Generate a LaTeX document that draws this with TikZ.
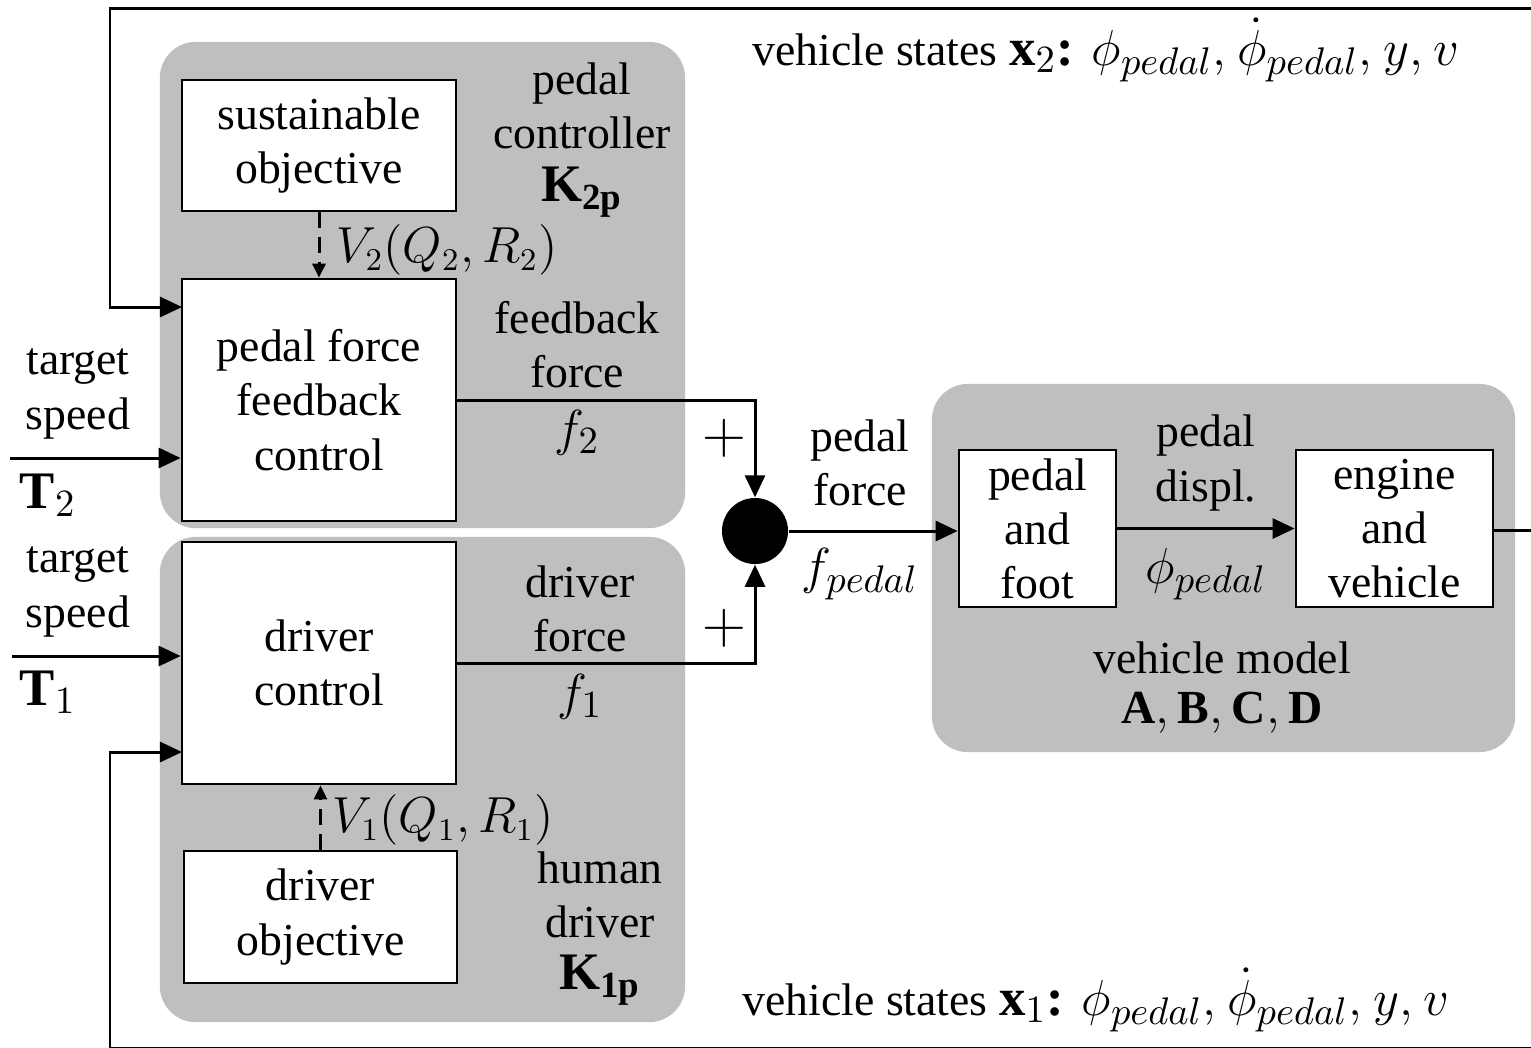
\documentclass[tikz,border=0pt]{standalone}
\usepackage{fontspec}
\setmainfont{Liberation Serif}
\usetikzlibrary{arrows.meta,calc}
\definecolor{boxgray}{HTML}{BFBFBF}
\newcommand{\largemath}[1]{{\fontsize{15}{18}\selectfont #1}}
\begin{document}
\fontsize{13}{15.4}\selectfont
\begin{tikzpicture}[x=0.01cm,y=-0.01cm,
  graybox/.style={fill=boxgray,draw=none,rounded corners=0.36cm,inner sep=0pt},
  blk/.style={draw=black,fill=white,line width=0.75pt,inner sep=0pt,align=center},
  lbl/.style={align=center,inner sep=0pt},
  mlbl/.style={align=center,inner sep=0pt,font=\fontsize{15}{18}\selectfont},
  arr/.style={line width=0.85pt,-{Triangle[length=0.22cm,width=0.2cm]}},
  darr/.style={line width=0.85pt,dash pattern=on 4.5pt off 2.5pt,-{Triangle[length=0.14cm,width=0.13cm]}},
  ln/.style={line width=0.85pt}]
\useasboundingbox (0,0) rectangle (1531,1047);
% gray groups
\node[graybox,minimum width=5.25cm,minimum height=4.86cm] (g2) at (422.5,285) {};
\node[graybox,minimum width=5.25cm,minimum height=4.85cm] (g1) at (422.5,779.5) {};
\node[graybox,minimum width=5.83cm,minimum height=3.68cm] (gv) at (1223.5,568) {};
% blocks
\node[blk,minimum width=2.74cm,minimum height=1.31cm] (so) at (319,145.5) {sustainable\\objective};
\node[blk,minimum width=2.74cm,minimum height=2.42cm] (pf) at (319,400) {pedal force\\feedback\\control};
\node[blk,minimum width=2.74cm,minimum height=2.42cm] (dc) at (319,663) {driver\\control};
\node[blk,minimum width=2.73cm,minimum height=1.32cm] (do) at (320.5,917) {driver\\objective};
\node[blk,minimum width=1.57cm,minimum height=1.57cm] (pff) at (1037.5,528.5) {pedal\\and\\foot};
\node[blk,minimum width=1.97cm,minimum height=1.57cm] (ev) at (1394.5,528.5) {engine\\and\\vehicle};
\node[circle,fill=black,minimum size=0.66cm,inner sep=0pt] (sum) at (755,531) {};
% coordinates for free ends
\coordinate (in2) at (10,458);
\coordinate (in1) at (12,656);
\coordinate (rtop) at (1545,8);
\coordinate (ltop) at (110,8);
\coordinate (fb2) at (182,307);
\coordinate (rbot) at (1545,1048.3);
\coordinate (lbot) at (110,1048.3);
\coordinate (fb1) at (182,752);
\coordinate (out) at (1545,530);
% connectors
\draw[arr] (pf.east) -| (sum.north);
\draw[arr] (dc.east) -| (sum.south);
\draw[arr] (sum.east) -- (sum.east -| pff.west);
\draw[arr] (pff.east) -- (ev.west);
\draw[ln] (ev.east |- out) -- (out);
\draw[arr] (in2) -- (in2 -| pf.west);
\draw[arr] (in1) -- (in1 -| dc.west);
\draw[arr] (rtop) -- (ltop) |- (fb2);
\draw[arr] (rbot) -- (lbot) |- (fb1);
\draw[darr] (so.south) -- (pf.north);
\draw[darr] (do.north) -- (do.north |- dc.south);
% labels
\node[lbl] (lk2) at (582,106) {pedal\\controller};
\node[mlbl] (mk2) at (582,192) {$\mathbf{K}_{\mathbf{2p}}$};
\node[lbl,font=\fontsize{13.5}{16}\selectfont] (lv2) at (447,250) {$V_2(Q_2,R_2)$};
\node[lbl] (lff) at (577,345) {feedback\\force};
\node[mlbl] (mf2) at (577,433) {$f_2$};
\node[lbl] (ldf) at (580,609) {driver\\force};
\node[mlbl] (mf1) at (580,697) {$f_1$};
\node[lbl,font=\fontsize{13.5}{16}\selectfont] (lv1) at (443,820) {$V_1(Q_1,R_1)$};
\node[lbl] (lk1) at (600,895) {human\\driver};
\node[mlbl] (mk1) at (600,980) {$\mathbf{K}_{\mathbf{1p}}$};
\node[lbl,font=\fontsize{17}{17}\selectfont] (pl2) at (724,438) {$+$};
\node[lbl,font=\fontsize{17}{17}\selectfont] (pl1) at (724,628) {$+$};
\node[lbl] (lpf) at (860,463) {pedal\\force};
\node[mlbl] (mpf) at (860,574) {$f_{pedal}$};
\node[lbl] (lpd) at (1206,463) {pedal\\displ.};
\node[mlbl] (mpd) at (1206,574) {$\phi_{pedal}$};
\node[lbl] (lvm) at (1222,658) {vehicle model};
\node[lbl,font=\fontsize{13.5}{16}\selectfont] (mvm) at (1222,713) {$\mathbf{A},\mathbf{B},\mathbf{C},\mathbf{D}$};
\node[lbl] (lt2) at (78,394) {target\\speed};
\node[mlbl] (lT2) at (48,495) {$\mathbf{T}_2$};
\node[lbl] (lt1) at (78,592) {target\\speed};
\node[mlbl] (lT1) at (48,692) {$\mathbf{T}_1$};
\node[lbl,anchor=west] (vs2) at (752,50) {vehicle states \largemath{$\mathbf{x}_2$\textbf{:} $\phi_{pedal},\kern0.7pt\dot{\phi}_{pedal},\kern0.7pt y,\kern0.7pt v$}};
\node[lbl,anchor=west] (vs1) at (742,1000) {vehicle states \largemath{$\mathbf{x}_1$\textbf{:} $\phi_{pedal},\kern0.7pt\dot{\phi}_{pedal},\kern0.7pt y,\kern0.7pt v$}};
\end{tikzpicture}
\end{document}
